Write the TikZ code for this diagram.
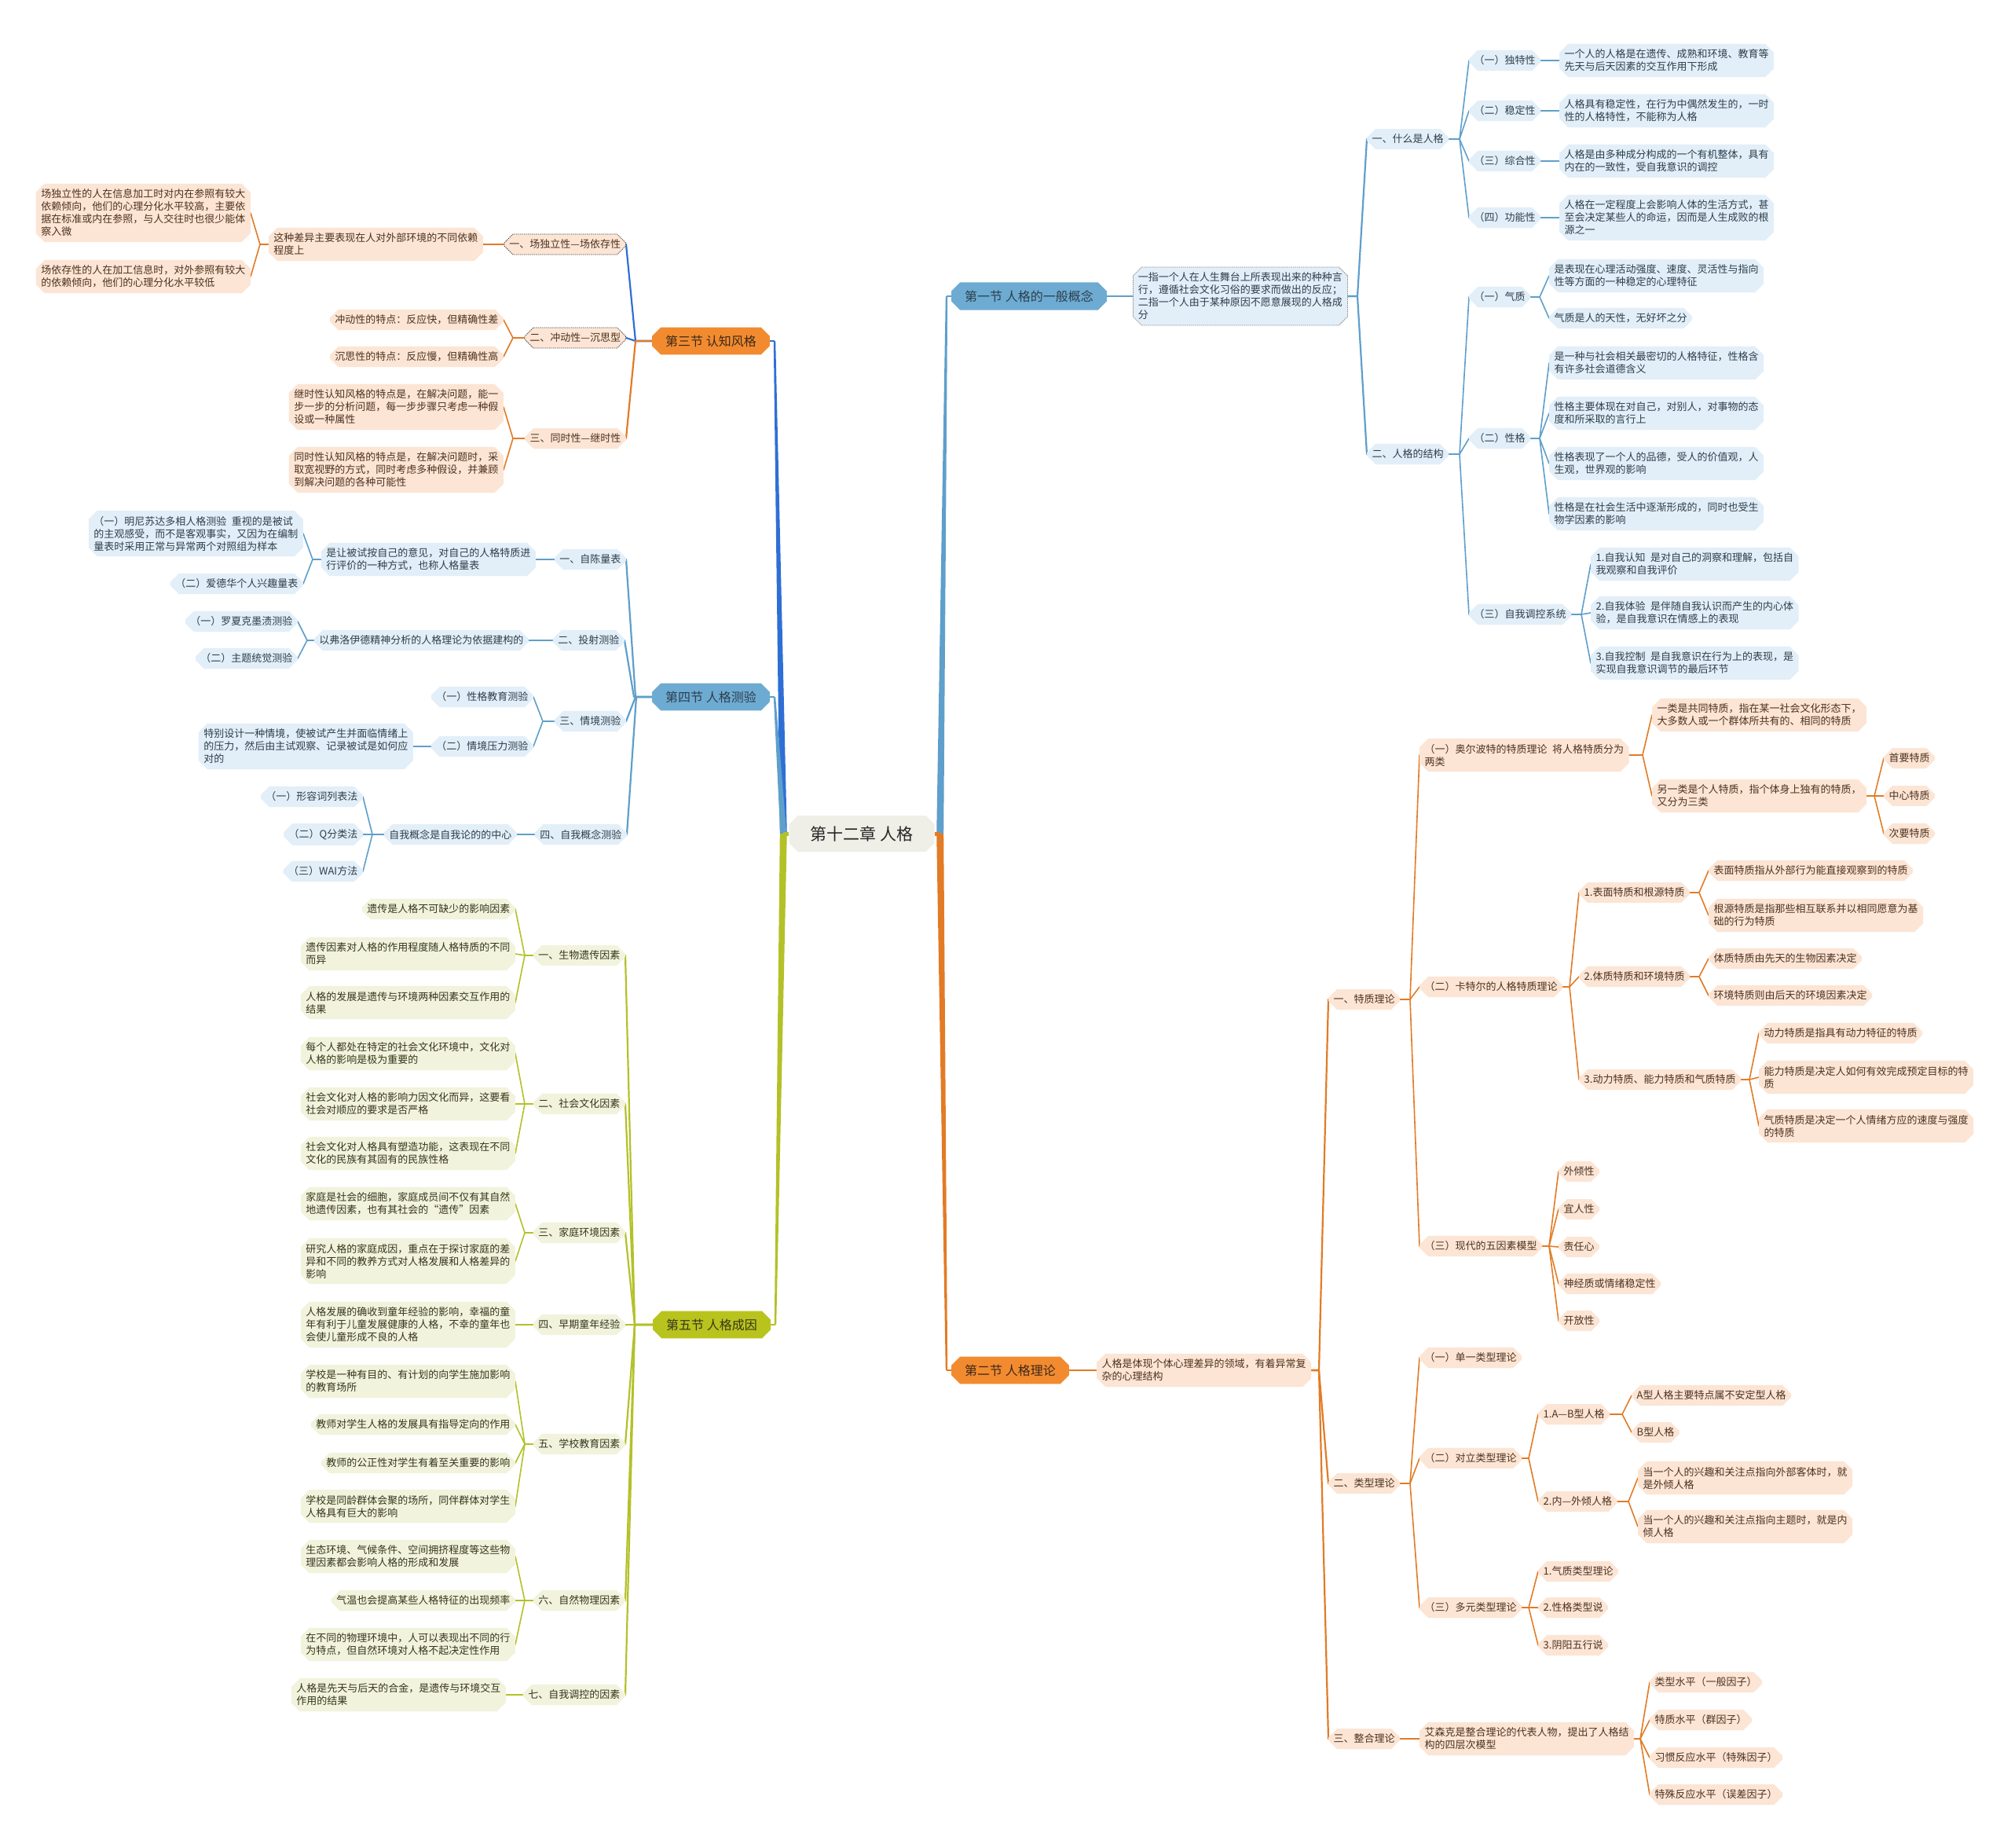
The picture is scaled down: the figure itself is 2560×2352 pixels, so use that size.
\documentclass[tikz,border=0pt]{standalone}
\usepackage{fontspec}
\setmainfont{Noto Sans CJK SC}
\usetikzlibrary{shapes.misc,calc,backgrounds}
\definecolor{bfill}{HTML}{E2EFF8}
\definecolor{bsecc}{HTML}{6DABD2}
\definecolor{bline}{HTML}{5E9FCB}
\definecolor{btext}{HTML}{2E3E4C}
\definecolor{sblue}{HTML}{2F6FD5}
\definecolor{ofill}{HTML}{FCE5D4}
\definecolor{osecc}{HTML}{F28B30}
\definecolor{oline}{HTML}{E27B25}
\definecolor{otext}{HTML}{4D3220}
\definecolor{gfill}{HTML}{F1F3DC}
\definecolor{gsecc}{HTML}{B9C31D}
\definecolor{gline}{HTML}{B3C128}
\definecolor{gtext}{HTML}{36361C}
\definecolor{rfill}{HTML}{EFEEE7}
\newcommand\linkR[3][]{\draw[lk,#1] (#2.east) -- ([xshift=-12pt]#3.west |- #2.east) -- (#3.west);}
\newcommand\linkL[3][]{\draw[lk,#1] (#2.west) -- ([xshift=12pt]#3.east |- #2.west) -- (#3.east);}
\tikzset{
 base/.style={chamfered rectangle, chamfered rectangle xsep=5pt, chamfered rectangle ysep=6pt,
   inner xsep=1.5pt, inner ysep=1pt, font=\fontsize{13pt}{16pt}\selectfont, align=left},
 bn/.style={base, fill=bfill, text=btext},
 on/.style={base, fill=ofill, text=otext},
 gn/.style={base, fill=gfill, text=gtext},
 dashbox/.style={draw=#1, dash pattern=on 1.5pt off 1pt, line width=0.8pt},
 secbox/.style={base, font=\fontsize{16pt}{20pt}\selectfont, inner xsep=12pt, inner ysep=4pt},
 bsec/.style={secbox, fill=bsecc, text=btext},
 osec/.style={secbox, fill=osecc, text=otext!80!black},
 gsec/.style={secbox, fill=gsecc, text=gtext},
 rootbox/.style={base, fill=rfill, text=black!85, font=\fontsize{21pt}{24pt}\selectfont, minimum width=185pt, minimum height=46pt},
 lk/.style={line width=1.6pt, line join=round, line cap=round},
 bl/.style={draw=bline}, bl1/.style={draw=bline, line width=2.2pt},
 ol/.style={draw=oline}, ol1/.style={draw=oline, line width=2.2pt},
 gl/.style={draw=gline}, gl1/.style={draw=gline, line width=2.2pt},
 sb/.style={draw=sblue, line width=2.2pt}
}
\begin{document}
\begin{tikzpicture}[x=1pt,y=-1pt]
\useasboundingbox (0,0) rectangle (2560,2352);

% root
\node[rootbox] (root) at (1097,1061) {第十二章\ 人格};

% ================= Section 1 =================
\node[bsec, anchor=west] (S1) at (1211,377) {第一节 人格的一般概念};
\node[bn, dashbox=black!45, anchor=west] (S1d) at (1442,377) {一指一个人在人生舞台上所表现出来的种种言\\行，遵循社会文化习俗的要求而做出的反应；\\二指一个人由于某种原因不愿意展现的人格成\\分};
\node[bn, anchor=west] (A1) at (1740,177) {一、什么是人格};
\node[bn, anchor=west] (A1a) at (1870,77) {（一）独特性};
\node[bn, anchor=west] (A1b) at (1870,141) {（二）稳定性};
\node[bn, anchor=west] (A1c) at (1870,205) {（三）综合性};
\node[bn, anchor=west] (A1d) at (1870,277) {（四）功能性};
\node[bn, anchor=west] (A1a1) at (1985,77) {一个人的人格是在遗传、成熟和环境、教育等\\先天与后天因素的交互作用下形成};
\node[bn, anchor=west] (A1b1) at (1985,141) {人格具有稳定性，在行为中偶然发生的，一时\\性的人格特性，不能称为人格};
\node[bn, anchor=west] (A1c1) at (1985,205) {人格是由多种成分构成的一个有机整体，具有\\内在的一致性，受自我意识的调控};
\node[bn, anchor=west] (A1d1) at (1985,277) {人格在一定程度上会影响人体的生活方式，甚\\至会决定某些人的命运，因而是人生成败的根\\源之一};
\node[bn, anchor=west] (A2) at (1740,578) {二、人格的结构};
\node[bn, anchor=west] (A2a) at (1870,378) {（一）气质};
\node[bn, anchor=west] (A2b) at (1870,558) {（二）性格};
\node[bn, anchor=west] (A2c) at (1870,782) {（三）自我调控系统};
\node[bn, anchor=west] (A2a1) at (1972,351) {是表现在心理活动强度、速度、灵活性与指向\\性等方面的一种稳定的心理特征};
\node[bn, anchor=west] (A2a2) at (1972,405) {气质是人的天性，无好坏之分};
\node[bn, anchor=west] (A2b1) at (1972,462) {是一种与社会相关最密切的人格特征，性格含\\有许多社会道德含义};
\node[bn, anchor=west] (A2b2) at (1972,526) {性格主要体现在对自己，对别人，对事物的态\\度和所采取的言行上};
\node[bn, anchor=west] (A2b3) at (1972,590) {性格表现了一个人的品德，受人的价值观，人\\生观，世界观的影响};
\node[bn, anchor=west] (A2b4) at (1972,654) {性格是在社会生活中逐渐形成的，同时也受生\\物学因素的影响};
\node[bn, anchor=west] (A2c1) at (2025,718) {1.自我认知\enspace 是对自己的洞察和理解，包括自\\我观察和自我评价};
\node[bn, anchor=west] (A2c2) at (2025,780) {2.自我体验\enspace 是伴随自我认识而产生的内心体\\验，是自我意识在情感上的表现};
\node[bn, anchor=west] (A2c3) at (2025,844) {3.自我控制\enspace 是自我意识在行为上的表现，是\\实现自我意识调节的最后环节};

% ================= Section 2 =================
\node[osec, anchor=west] (S2) at (1211,1744) {第二节 人格理论};
\node[on, anchor=west] (S2d) at (1396,1744) {人格是体现个体心理差异的领域，有着异常复\\杂的心理结构};
\node[on, anchor=west] (B1) at (1691,1272) {一、特质理论};
\node[on, anchor=west] (B1a) at (1807,961) {（一）奥尔波特的特质理论\enspace 将人格特质分为\\两类};
\node[on, anchor=west] (B1a1) at (2103,910) {一类是共同特质，指在某一社会文化形态下，\\大多数人或一个群体所共有的、相同的特质};
\node[on, anchor=west] (B1a2) at (2103,1013) {另一类是个人特质，指个体身上独有的特质，\\又分为三类};
\node[on, anchor=west] (B1a2a) at (2398,965) {首要特质};
\node[on, anchor=west] (B1a2b) at (2398,1013) {中心特质};
\node[on, anchor=west] (B1a2c) at (2398,1061) {次要特质};
\node[on, anchor=west] (B1b) at (1807,1256) {（二）卡特尔的人格特质理论};
\node[on, anchor=west] (B1b1) at (2010,1136) {1.表面特质和根源特质};
\node[on, anchor=west] (B1b1a) at (2175,1108) {表面特质指从外部行为能直接观察到的特质};
\node[on, anchor=west] (B1b1b) at (2175,1165) {根源特质是指那些相互联系并以相同愿意为基\\础的行为特质};
\node[on, anchor=west] (B1b2) at (2010,1243) {2.体质特质和环境特质};
\node[on, anchor=west] (B1b2a) at (2175,1220) {体质特质由先天的生物因素决定};
\node[on, anchor=west] (B1b2b) at (2175,1267) {环境特质则由后天的环境因素决定};
\node[on, anchor=west] (B1b3) at (2010,1374) {3.动力特质、能力特质和气质特质};
\node[on, anchor=west] (B1b3a) at (2239,1315) {动力特质是指具有动力特征的特质};
\node[on, anchor=west] (B1b3b) at (2239,1371) {能力特质是决定人如何有效完成预定目标的特\\质};
\node[on, anchor=west] (B1b3c) at (2239,1433) {气质特质是决定一个人情绪方应的速度与强度\\的特质};
\node[on, anchor=west] (B1c) at (1807,1586) {（三）现代的五因素模型};
\node[on, anchor=west] (B1c1) at (1984,1491) {外倾性};
\node[on, anchor=west] (B1c2) at (1984,1539) {宜人性};
\node[on, anchor=west] (B1c3) at (1984,1587) {责任心};
\node[on, anchor=west] (B1c4) at (1984,1634) {神经质或情绪稳定性};
\node[on, anchor=west] (B1c5) at (1984,1681) {开放性};
\node[on, anchor=west] (B2) at (1691,1888) {二、类型理论};
\node[on, anchor=west] (B2a) at (1807,1728) {（一）单一类型理论};
\node[on, anchor=west] (B2b) at (1807,1856) {（二）对立类型理论};
\node[on, anchor=west] (B2b1) at (1958,1800) {1.A—B型人格};
\node[on, anchor=west] (B2b1a) at (2077,1776) {A型人格主要特点属不安定型人格};
\node[on, anchor=west] (B2b1b) at (2077,1823) {B型人格};
\node[on, anchor=west] (B2b2) at (1958,1911) {2.内—外倾人格};
\node[on, anchor=west] (B2b2a) at (2085,1881) {当一个人的兴趣和关注点指向外部客体时，就\\是外倾人格};
\node[on, anchor=west] (B2b2b) at (2085,1943) {当一个人的兴趣和关注点指向主题时，就是内\\倾人格};
\node[on, anchor=west] (B2c) at (1807,2046) {（三）多元类型理论};
\node[on, anchor=west] (B2c1) at (1958,2000) {1.气质类型理论};
\node[on, anchor=west] (B2c2) at (1958,2046) {2.性格类型说};
\node[on, anchor=west] (B2c3) at (1958,2094) {3.阴阳五行说};
\node[on, anchor=west] (B3) at (1691,2213) {三、整合理论};
\node[on, anchor=west] (B3a) at (1807,2213) {艾森克是整合理论的代表人物，提出了人格结\\构的四层次模型};
\node[on, anchor=west] (B3a1) at (2100,2141) {类型水平（一般因子）};
\node[on, anchor=west] (B3a2) at (2100,2189) {特质水平（群因子）};
\node[on, anchor=west] (B3a3) at (2100,2237) {习惯反应水平（特殊因子）};
\node[on, anchor=west] (B3a4) at (2100,2284) {特殊反应水平（误差因子）};

% ================= Section 3 =================
\node[osec, anchor=east] (S3) at (980,434) {第三节 认知风格};
\node[on, dashbox=black!70, anchor=east] (C1) at (797,311) {一、场独立性—场依存性};
\node[on, anchor=east] (C1d) at (615,311) {这种差异主要表现在人对外部环境的不同依赖\\程度上};
\node[on, anchor=east] (C1d1) at (319,271) {场独立性的人在信息加工时对内在参照有较大\\依赖倾向，他们的心理分化水平较高，主要依\\据在标准或内在参照，与人交往时也很少能体\\察入微};
\node[on, anchor=east] (C1d2) at (319,352) {场依存性的人在加工信息时，对外参照有较大\\的依赖倾向，他们的心理分化水平较低};
\node[on, dashbox=black!70, anchor=east] (C2) at (797,430) {二、冲动性—沉思型};
\node[on, anchor=east] (C2a) at (641,407) {冲动性的特点：反应快，但精确性差};
\node[on, anchor=east] (C2b) at (641,454) {沉思性的特点：反应慢，但精确性高};
\node[on, anchor=east] (C3) at (797,558) {三、同时性—继时性};
\node[on, anchor=east] (C3a) at (641,518) {继时性认知风格的特点是，在解决问题，能一\\步一步的分析问题，每一步步骤只考虑一种假\\设或一种属性};
\node[on, anchor=east] (C3b) at (641,598) {同时性认知风格的特点是，在解决问题时，采\\取宽视野的方式，同时考虑多种假设，并兼顾\\到解决问题的各种可能性};

% ================= Section 4 =================
\node[bsec, anchor=east] (S4) at (980,887) {第四节 人格测验};
\node[bn, anchor=east] (D1) at (797,712) {一、自陈量表};
\node[bn, anchor=east] (D1d) at (682,712) {是让被试按自己的意见，对自己的人格特质进\\行评价的一种方式，也称人格量表};
\node[bn, anchor=east] (D1a) at (386,679) {（一）明尼苏达多相人格测验\enspace 重视的是被试\\的主观感受，而不是客观事实，又因为在编制\\量表时采用正常与异常两个对照组为样本};
\node[bn, anchor=east] (D1b) at (386,743) {（二）爱德华个人兴趣量表};
\node[bn, anchor=east] (D2) at (795,815) {二、投射测验};
\node[bn, anchor=east] (D2d) at (673,815) {以弗洛伊德精神分析的人格理论为依据建构的};
\node[bn, anchor=east] (D2a) at (379,791) {（一）罗夏克墨渍测验};
\node[bn, anchor=east] (D2b) at (379,838) {（二）主题统觉测验};
\node[bn, anchor=east] (D3) at (797,918) {三、情境测验};
\node[bn, anchor=east] (D3a) at (679,887) {（一）性格教育测验};
\node[bn, anchor=east] (D3b) at (679,950) {（二）情境压力测验};
\node[bn, anchor=east] (D3b1) at (526,950) {特别设计一种情境，使被试产生并面临情绪上\\的压力，然后由主试观察、记录被试是如何应\\对的};
\node[bn, anchor=east] (D4) at (798,1062) {四、自我概念测验};
\node[bn, anchor=east] (D4d) at (658,1062) {自我概念是自我论的的中心};
\node[bn, anchor=east] (D4a) at (462,1014) {（一）形容词列表法};
\node[bn, anchor=east] (D4b) at (462,1062) {（二）Q分类法};
\node[bn, anchor=east] (D4c) at (462,1109) {（三）WAI方法};

% ================= Section 5 =================
\node[gsec, anchor=east] (S5) at (981,1686) {第五节 人格成因};
\node[gn, anchor=east] (E1) at (796,1216) {一、生物遗传因素};
\node[gn, anchor=east] (E1a) at (656,1157) {遗传是人格不可缺少的影响因素};
\node[gn, anchor=east] (E1b) at (656,1214) {遗传因素对人格的作用程度随人格特质的不同\\而异};
\node[gn, anchor=east] (E1c) at (656,1276) {人格的发展是遗传与环境两种因素交互作用的\\结果};
\node[gn, anchor=east] (E2) at (796,1405) {二、社会文化因素};
\node[gn, anchor=east] (E2a) at (656,1341) {每个人都处在特定的社会文化环境中，文化对\\人格的影响是极为重要的};
\node[gn, anchor=east] (E2b) at (656,1405) {社会文化对人格的影响力因文化而异，这要看\\社会对顺应的要求是否严格};
\node[gn, anchor=east] (E2c) at (656,1468) {社会文化对人格具有塑造功能，这表现在不同\\文化的民族有其固有的民族性格};
\node[gn, anchor=east] (E3) at (796,1569) {三、家庭环境因素};
\node[gn, anchor=east] (E3a) at (656,1532) {家庭是社会的细胞，家庭成员间不仅有其自然\\地遗传因素，也有其社会的“遗传”因素};
\node[gn, anchor=east] (E3b) at (656,1605) {研究人格的家庭成因，重点在于探讨家庭的差\\异和不同的教养方式对人格发展和人格差异的\\影响};
\node[gn, anchor=east] (E4) at (796,1686) {四、早期童年经验};
\node[gn, anchor=east] (E4a) at (656,1686) {人格发展的确收到童年经验的影响，幸福的童\\年有利于儿童发展健康的人格，不幸的童年也\\会使儿童形成不良的人格};
\node[gn, anchor=east] (E5) at (796,1838) {五、学校教育因素};
\node[gn, anchor=east] (E5a) at (656,1758) {学校是一种有目的、有计划的向学生施加影响\\的教育场所};
\node[gn, anchor=east] (E5b) at (656,1813) {教师对学生人格的发展具有指导定向的作用};
\node[gn, anchor=east] (E5c) at (656,1862) {教师的公正性对学生有着至关重要的影响};
\node[gn, anchor=east] (E5d) at (656,1917) {学校是同龄群体会聚的场所，同伴群体对学生\\人格具有巨大的影响};
\node[gn, anchor=east] (E6) at (796,2037) {六、自然物理因素};
\node[gn, anchor=east] (E6a) at (656,1981) {生态环境、气候条件、空间拥挤程度等这些物\\理因素都会影响人格的形成和发展};
\node[gn, anchor=east] (E6b) at (656,2037) {气温也会提高某些人格特征的出现频率};
\node[gn, anchor=east] (E6c) at (656,2093) {在不同的物理环境中，人可以表现出不同的行\\为特点，但自然环境对人格不起决定性作用};
\node[gn, anchor=east] (E7) at (796,2157) {七、自我调控的因素};
\node[gn, anchor=east] (E7a) at (644,2157) {人格是先天与后天的合金，是遗传与环境交互\\作用的结果};

\begin{scope}[on background layer]
\fill[white] (0,0) rectangle (2560,2352);
% main tapered branches
\coordinate (rR) at ([xshift=7pt]root.east);
\coordinate (rL) at ([xshift=-7pt]root.west);
\coordinate (p1) at ([xshift=-6pt]S1.west);
\coordinate (p2) at ([xshift=-6pt]S2.west);
\coordinate (p3) at ([xshift=6pt]S3.east);
\coordinate (p4) at ([xshift=6pt]S4.east);
\coordinate (p5) at ([xshift=6pt]S5.east);
\fill[bline] ($(rR)+(-4.5,0)$) -- ($(p1)+(-1.2,0)$) -- ($(p1)+(1.2,0)$) -- ($(rR)+(4.5,0)$) -- cycle;
\fill[oline] ($(rR)+(-4.5,0)$) -- ($(p2)+(-1.2,0)$) -- ($(p2)+(1.2,0)$) -- ($(rR)+(4.5,0)$) -- cycle;
\draw[bline, line width=2.4pt] (p1) -- (S1.west);
\draw[oline, line width=2.4pt] (p2) -- (S2.west);
\draw[oline, line width=5pt] (root.east) -- (rR);
\fill[sblue] ($(rL)+(-4.5,0)$) -- ($(p3)+(-1.2,0)$) -- ($(p3)+(1.2,0)$) -- ($(rL)+(4.5,0)$) -- cycle;
\fill[bline] ($(rL)+(-4,0)$) -- ($(p4)+(-1.2,0)$) -- ($(p4)+(1.2,0)$) -- ($(rL)+(4,0)$) -- cycle;
\fill[gline] ($(rL)+(-4.5,0)$) -- ($(p5)+(-1.2,0)$) -- ($(p5)+(1.2,0)$) -- ($(rL)+(4.5,0)$) -- cycle;
\draw[sblue, line width=2.4pt] (p3) -- (S3.east);
\draw[bline, line width=2.4pt] (p4) -- (S4.east);
\draw[gline, line width=2.4pt] (p5) -- (S5.east);
\draw[gline, line width=5pt] (root.west) -- (rL);

% section 1
\linkR[bl1]{S1}{S1d}
\linkR[bl1]{S1d}{A1}
\linkR[bl1]{S1d}{A2}
\foreach \c in {A1a,A1b,A1c,A1d} {\linkR[bl]{A1}{\c}}
\linkR[bl]{A1a}{A1a1}
\linkR[bl]{A1b}{A1b1}
\linkR[bl]{A1c}{A1c1}
\linkR[bl]{A1d}{A1d1}
\foreach \c in {A2a,A2b,A2c} {\linkR[bl]{A2}{\c}}
\foreach \c in {A2a1,A2a2} {\linkR[bl]{A2a}{\c}}
\foreach \c in {A2b1,A2b2,A2b3,A2b4} {\linkR[bl]{A2b}{\c}}
\foreach \c in {A2c1,A2c2,A2c3} {\linkR[bl]{A2c}{\c}}

% section 2
\linkR[ol1]{S2}{S2d}
\foreach \c in {B1,B2,B3} {\linkR[ol1]{S2d}{\c}}
\foreach \c in {B1a,B1b,B1c} {\linkR[ol]{B1}{\c}}
\foreach \c in {B1a1,B1a2} {\linkR[ol]{B1a}{\c}}
\foreach \c in {B1a2a,B1a2b,B1a2c} {\linkR[ol]{B1a2}{\c}}
\foreach \c in {B1b1,B1b2,B1b3} {\linkR[ol]{B1b}{\c}}
\foreach \c in {B1b1a,B1b1b} {\linkR[ol]{B1b1}{\c}}
\foreach \c in {B1b2a,B1b2b} {\linkR[ol]{B1b2}{\c}}
\foreach \c in {B1b3a,B1b3b,B1b3c} {\linkR[ol]{B1b3}{\c}}
\foreach \c in {B1c1,B1c2,B1c3,B1c4,B1c5} {\linkR[ol]{B1c}{\c}}
\foreach \c in {B2a,B2b,B2c} {\linkR[ol]{B2}{\c}}
\foreach \c in {B2b1,B2b2} {\linkR[ol]{B2b}{\c}}
\foreach \c in {B2b1a,B2b1b} {\linkR[ol]{B2b1}{\c}}
\foreach \c in {B2b2a,B2b2b} {\linkR[ol]{B2b2}{\c}}
\foreach \c in {B2c1,B2c2,B2c3} {\linkR[ol]{B2c}{\c}}
\linkR[ol]{B3}{B3a}
\foreach \c in {B3a1,B3a2,B3a3,B3a4} {\linkR[ol]{B3a}{\c}}

% section 3
\linkL[sb]{S3}{C1}
\linkL[sb]{S3}{C2}
\linkL[ol1]{S3}{C3}
\linkL[ol]{C1}{C1d}
\foreach \c in {C1d1,C1d2} {\linkL[ol]{C1d}{\c}}
\foreach \c in {C2a,C2b} {\linkL[ol]{C2}{\c}}
\foreach \c in {C3a,C3b} {\linkL[ol]{C3}{\c}}

% section 4
\foreach \c in {D1,D2,D3,D4} {\linkL[bl1]{S4}{\c}}
\linkL[bl]{D1}{D1d}
\foreach \c in {D1a,D1b} {\linkL[bl]{D1d}{\c}}
\linkL[bl]{D2}{D2d}
\foreach \c in {D2a,D2b} {\linkL[bl]{D2d}{\c}}
\foreach \c in {D3a,D3b} {\linkL[bl]{D3}{\c}}
\linkL[bl]{D3b}{D3b1}
\linkL[bl]{D4}{D4d}
\foreach \c in {D4a,D4b,D4c} {\linkL[bl]{D4d}{\c}}

% section 5
\foreach \c in {E1,E2,E3,E4,E5,E6,E7} {\linkL[gl1]{S5}{\c}}
\foreach \c in {E1a,E1b,E1c} {\linkL[gl]{E1}{\c}}
\foreach \c in {E2a,E2b,E2c} {\linkL[gl]{E2}{\c}}
\foreach \c in {E3a,E3b} {\linkL[gl]{E3}{\c}}
\linkL[gl]{E4}{E4a}
\foreach \c in {E5a,E5b,E5c,E5d} {\linkL[gl]{E5}{\c}}
\foreach \c in {E6a,E6b,E6c} {\linkL[gl]{E6}{\c}}
\linkL[gl]{E7}{E7a}
\end{scope}
\end{tikzpicture}
\end{document}
